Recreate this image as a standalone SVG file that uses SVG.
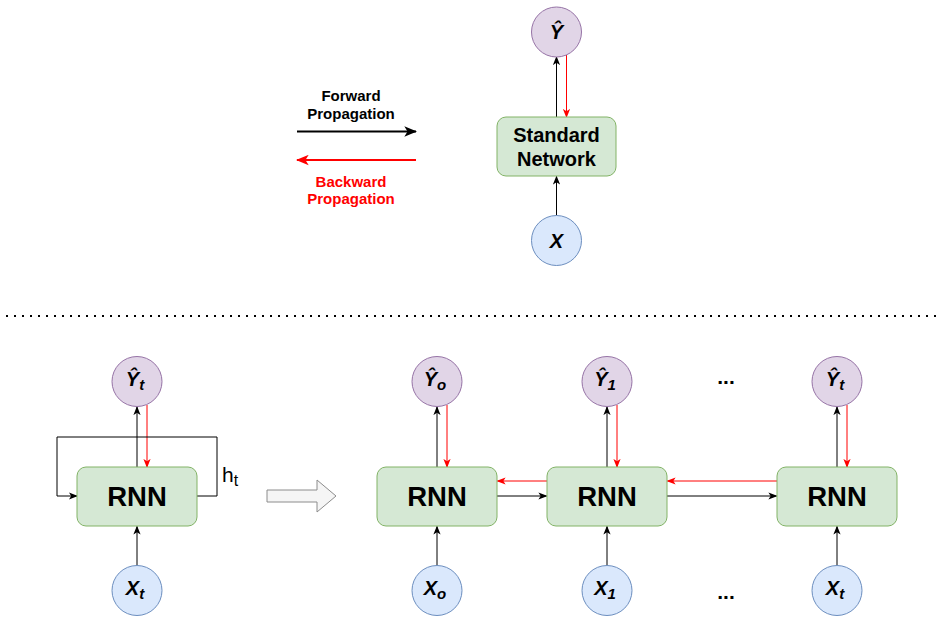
<svg xmlns="http://www.w3.org/2000/svg" width="944" height="621" viewBox="0 0 944 621">
<defs>
<style>
.out{fill:#e1d5e7;stroke:#9673a6;stroke-width:1}
.inp{fill:#dae8fc;stroke:#6c8ebf;stroke-width:1}
.box{fill:#d5e8d4;stroke:#82b366;stroke-width:1}
.lbl{font-family:"Liberation Sans",Arial,sans-serif;font-weight:bold;font-style:italic;font-size:20px;fill:#000;text-anchor:middle}
.sub{font-size:15px}
.rnn{font-family:"Liberation Sans",Arial,sans-serif;font-weight:bold;font-size:27.5px;fill:#000;text-anchor:middle}
.std{font-family:"Liberation Sans",Arial,sans-serif;font-weight:bold;font-size:20px;fill:#000;text-anchor:middle}
.leg{font-family:"Liberation Sans",Arial,sans-serif;font-weight:bold;font-size:15px;text-anchor:middle}
.blk{fill:none;stroke:#000;stroke-width:1}
.red{fill:none;stroke:#ff0000;stroke-width:1}
.ell{font-family:"Liberation Sans",Arial,sans-serif;font-weight:bold;font-size:21px;text-anchor:middle;fill:#000}
</style>
<marker id="ab" viewBox="0 0 10 8" refX="9" refY="4" markerWidth="9" markerHeight="8" markerUnits="userSpaceOnUse" orient="auto">
<path d="M0,0 L10,4 L0,8 L2.5,4 z" fill="#000"/>
</marker>
<marker id="ar" viewBox="0 0 10 8" refX="9" refY="4" markerWidth="9" markerHeight="8" markerUnits="userSpaceOnUse" orient="auto">
<path d="M0,0 L10,4 L0,8 L2.5,4 z" fill="#ff0000"/>
</marker>
<marker id="abL" viewBox="0 0 10 8" refX="9" refY="4" markerWidth="13" markerHeight="11" markerUnits="userSpaceOnUse" orient="auto">
<path d="M0,0 L10,4 L0,8 L2.5,4 z" fill="#000"/>
</marker>
<marker id="arL" viewBox="0 0 10 8" refX="9" refY="4" markerWidth="13" markerHeight="11" markerUnits="userSpaceOnUse" orient="auto">
<path d="M0,0 L10,4 L0,8 L2.5,4 z" fill="#ff0000"/>
</marker>
</defs>
<rect width="944" height="621" fill="#fff"/>

<g id="legend">
<text class="leg" x="351" y="101" fill="#000">Forward</text>
<text class="leg" x="351" y="118.5" fill="#000">Propagation</text>
<line x1="297" y1="131.5" x2="416" y2="131.5" stroke="#000" stroke-width="2" marker-end="url(#abL)"/>
<line x1="416" y1="160" x2="297" y2="160" stroke="#ff0000" stroke-width="2" marker-end="url(#arL)"/>
<text class="leg" x="351" y="187" fill="#ff0000">Backward</text>
<text class="leg" x="351" y="204" fill="#ff0000">Propagation</text>
</g>

<g id="separator">
<line x1="6" y1="316" x2="940" y2="316" stroke="#000" stroke-width="2" stroke-dasharray="2 6"/>
</g>

<g id="connectors">
<line class="blk" x1="556.5" y1="215.5" x2="556.5" y2="176.5" marker-end="url(#ab)"/>
<line class="blk" x1="556.5" y1="117" x2="556.5" y2="57" marker-end="url(#ab)"/>
<line class="red" x1="566.5" y1="55" x2="566.5" y2="117" marker-end="url(#ar)"/>
<line class="blk" x1="137" y1="565.5" x2="137" y2="526.5" marker-end="url(#ab)"/>
<line class="blk" x1="137" y1="467" x2="137" y2="407" marker-end="url(#ab)"/>
<line class="red" x1="147" y1="405" x2="147" y2="467" marker-end="url(#ar)"/>
<polyline class="blk" points="197,496 217,496 217,437 57,437 57,496 77,496" marker-end="url(#ab)"/>
<line class="blk" x1="437" y1="565.5" x2="437" y2="526.5" marker-end="url(#ab)"/>
<line class="blk" x1="437" y1="467" x2="437" y2="407" marker-end="url(#ab)"/>
<line class="red" x1="447" y1="405" x2="447" y2="467" marker-end="url(#ar)"/>
<line class="blk" x1="607" y1="565.5" x2="607" y2="526.5" marker-end="url(#ab)"/>
<line class="blk" x1="607" y1="467" x2="607" y2="407" marker-end="url(#ab)"/>
<line class="red" x1="617" y1="405" x2="617" y2="467" marker-end="url(#ar)"/>
<line class="blk" x1="837" y1="565.5" x2="837" y2="526.5" marker-end="url(#ab)"/>
<line class="blk" x1="837" y1="467" x2="837" y2="407" marker-end="url(#ab)"/>
<line class="red" x1="847" y1="405" x2="847" y2="467" marker-end="url(#ar)"/>
<line class="red" x1="547" y1="481" x2="497.5" y2="481" marker-end="url(#ar)"/>
<line class="blk" x1="497" y1="496" x2="546.5" y2="496" marker-end="url(#ab)"/>
<line class="red" x1="777" y1="481" x2="667.5" y2="481" marker-end="url(#ar)"/>
<line class="blk" x1="667" y1="496" x2="776.5" y2="496" marker-end="url(#ab)"/>
</g>

<g id="std-y">
<circle class="out" cx="556.5" cy="32" r="25"/>
<text class="lbl" x="556.5" y="39">Ŷ</text>
</g>
<g id="std-net">
<rect class="box" x="497" y="117" width="119" height="59" rx="9"/>
<text class="std" x="556.5" y="142">Standard</text>
<text class="std" x="556.5" y="166">Network</text>
</g>
<g id="std-x">
<circle class="inp" cx="556.5" cy="240.5" r="25"/>
<text class="lbl" x="556.5" y="247.5">X</text>
</g>

<g id="fold-y">
<circle class="out" cx="137" cy="381.5" r="25"/>
<text class="lbl" x="135" y="386">Ŷ<tspan class="sub" dy="4">t</tspan></text>
</g>
<g id="fold-rnn">
<rect class="box" x="77" y="467" width="120" height="59" rx="9"/>
<text class="rnn" x="137" y="506">RNN</text>
</g>
<g id="fold-x">
<circle class="inp" cx="137" cy="590.5" r="25"/>
<text class="lbl" x="135" y="595">X<tspan class="sub" dy="4">t</tspan></text>
</g>
<g id="ht-label">
<text x="222" y="482" font-family="Liberation Sans, Arial, sans-serif" font-size="21" fill="#000">h<tspan font-size="16" dy="4">t</tspan></text>
</g>

<g id="unroll-arrow">
<polygon points="267,490 317,490 317,480 336,496 317,512 317,502 267,502" fill="#f5f5f5" stroke="#8c8c8c" stroke-width="1"/>
</g>

<g id="y0">
<circle class="out" cx="437" cy="381.5" r="25"/>
<text class="lbl" x="435" y="386">Ŷ<tspan class="sub" dy="4">o</tspan></text>
</g>
<g id="rnn0">
<rect class="box" x="377" y="467" width="120" height="59" rx="9"/>
<text class="rnn" x="437" y="506">RNN</text>
</g>
<g id="x0">
<circle class="inp" cx="437" cy="590.5" r="25"/>
<text class="lbl" x="435" y="595">X<tspan class="sub" dy="4">o</tspan></text>
</g>

<g id="y1">
<circle class="out" cx="607" cy="381.5" r="25"/>
<text class="lbl" x="605" y="386">Ŷ<tspan class="sub" dy="4">1</tspan></text>
</g>
<g id="rnn1">
<rect class="box" x="547" y="467" width="120" height="59" rx="9"/>
<text class="rnn" x="607" y="506">RNN</text>
</g>
<g id="x1">
<circle class="inp" cx="607" cy="590.5" r="25"/>
<text class="lbl" x="605" y="595">X<tspan class="sub" dy="4">1</tspan></text>
</g>

<g id="dots-top">
<text class="ell" x="726" y="384">...</text>
</g>
<g id="dots-bottom">
<text class="ell" x="726" y="599">...</text>
</g>

<g id="yt">
<circle class="out" cx="837" cy="381.5" r="25"/>
<text class="lbl" x="835" y="386">Ŷ<tspan class="sub" dy="4">t</tspan></text>
</g>
<g id="rnnt">
<rect class="box" x="777" y="467" width="120" height="59" rx="9"/>
<text class="rnn" x="837" y="506">RNN</text>
</g>
<g id="xt">
<circle class="inp" cx="837" cy="590.5" r="25"/>
<text class="lbl" x="835" y="595">X<tspan class="sub" dy="4">t</tspan></text>
</g>
</svg>
